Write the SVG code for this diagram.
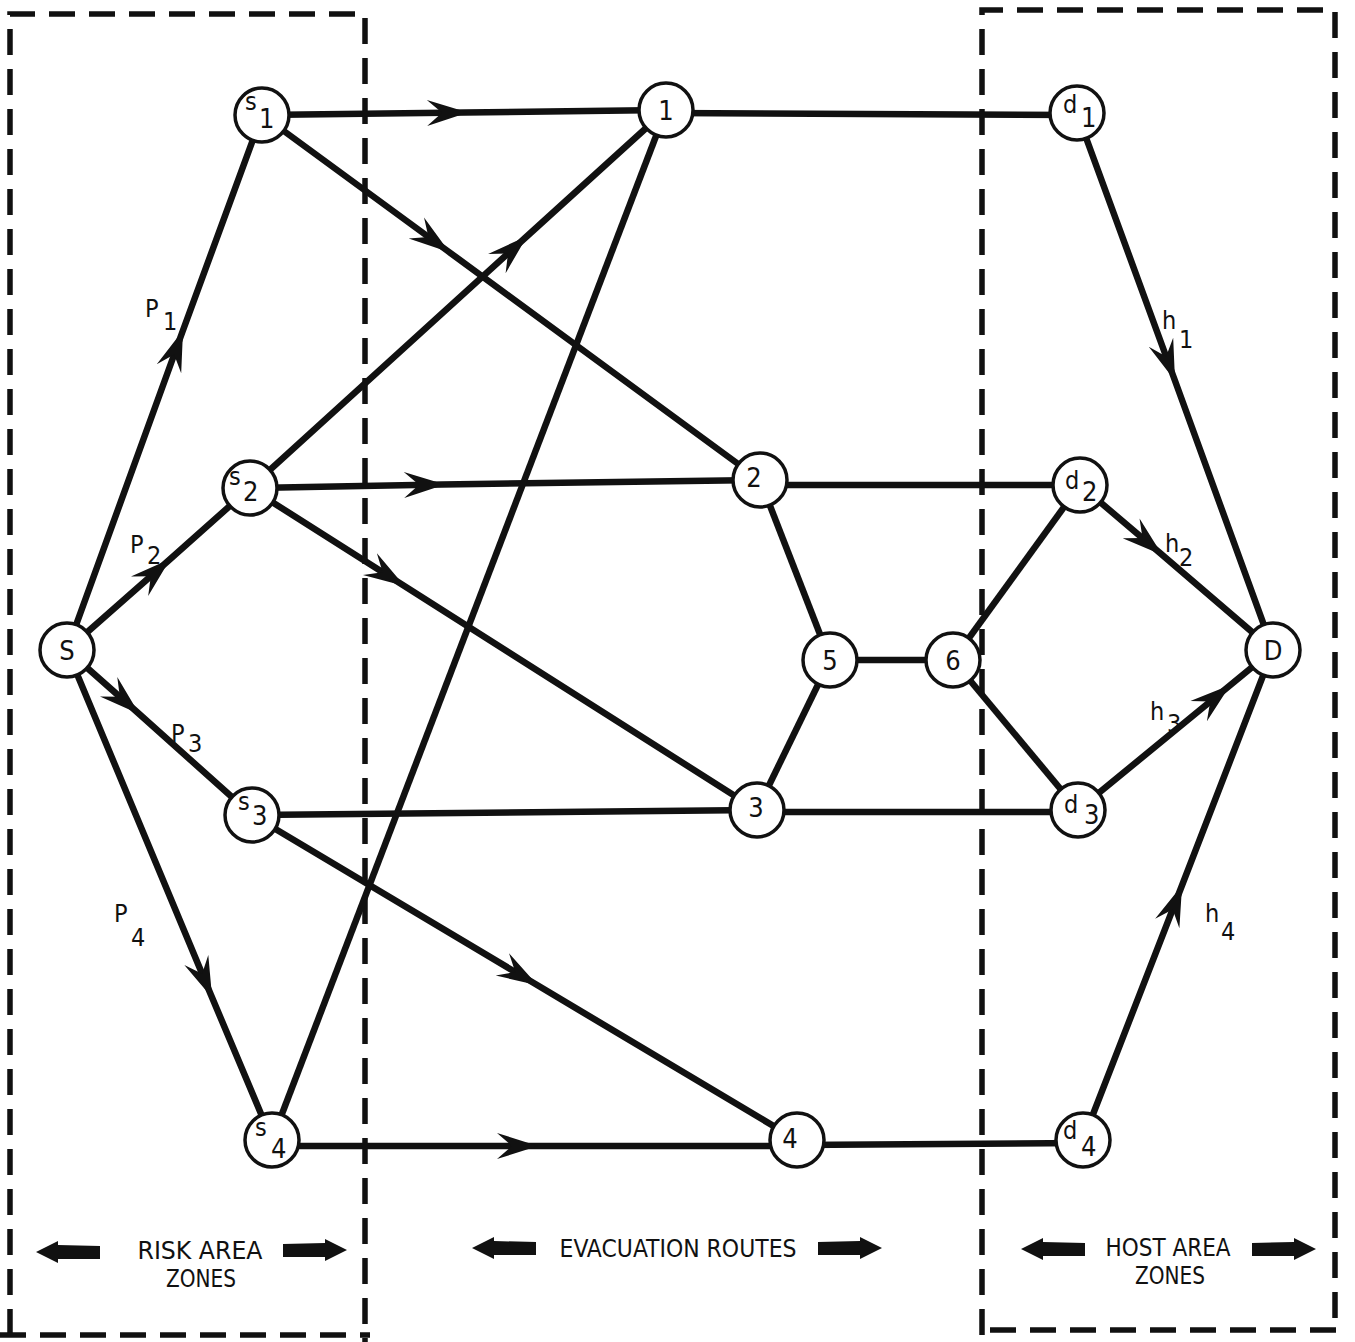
<svg xmlns="http://www.w3.org/2000/svg" width="1355" height="1342" viewBox="0 0 1355 1342">
<style>
.e{stroke:#111;stroke-width:6.5;fill:none}
.a{stroke:#111;stroke-width:6.5;fill:none;marker-mid:url(#ah)}
.n{fill:#fff;stroke:#111;stroke-width:3.5}
.t{font-family:"DejaVu Sans Condensed","DejaVu Sans","Liberation Sans",sans-serif;font-size:27px;fill:#111}
.s{font-family:"DejaVu Sans Condensed","DejaVu Sans","Liberation Sans",sans-serif;font-size:25px;fill:#111}
.b{font-family:"DejaVu Sans Condensed","DejaVu Sans","Liberation Sans",sans-serif;font-size:25px;fill:#111}
.d{stroke:#111;stroke-width:5.5;fill:none;stroke-dasharray:26 14}
.ar{fill:#111}
</style>
<defs>
<marker id="ah" markerUnits="userSpaceOnUse" markerWidth="48" markerHeight="34" viewBox="-42 -17 48 34" refX="0" refY="0" orient="auto">
<path d="M3,0 L-38,-13 L-23,0 L-38,13 Z" fill="#111"/>
</marker>
<path id="arrR" d="M0,-6 L42,-7 L42,-11 L64,0 L42,11 L42,7 L0,7 Z"/>
</defs>
<g id="zones">
<path class="d" d="M10,1335 L10,14 L365,14 L365,1342"/>
<path class="d" d="M0,1335 L370,1335"/>
<path class="d" d="M982,1335 L982,10 L1335,10 L1335,1330"/>
<path class="d" d="M990,1330 L1342,1330"/>
</g>
<g id="connectors">
<polyline class="a" points="67,650 182,333 262,115"/>
<polyline class="a" points="67,650 168,561 250,488"/>
<polyline class="a" points="67,650 137,712 252,815"/>
<polyline class="a" points="67,650 211,995 272,1140"/>
<polyline class="a" points="262,115 465,112.5 666,110"/>
<polyline class="a" points="262,115 447,250.5 760,480"/>
<polyline class="a" points="250,488 525,238 666,110"/>
<polyline class="a" points="250,488 442,484.5 760,480"/>
<polyline class="a" points="250,488 402,584.5 757,810"/>
<polyline class="a" points="252,815 535,983.8 797,1140"/>
<polyline class="a" points="272,1146 535,1146 797,1146"/>
<line class="e" x1="272" y1="1140" x2="666" y2="110"/>
<line class="e" x1="252" y1="815" x2="757" y2="810"/>
<line class="e" x1="666" y1="113" x2="1077" y2="115"/>
<line class="e" x1="760" y1="485" x2="1080" y2="485"/>
<line class="e" x1="757" y1="812" x2="1078" y2="812"/>
<line class="e" x1="797" y1="1145" x2="1083" y2="1143"/>
<line class="e" x1="760" y1="480" x2="830" y2="660"/>
<line class="e" x1="757" y1="810" x2="830" y2="660"/>
<line class="e" x1="830" y1="660" x2="953" y2="660"/>
<line class="e" x1="953" y1="660" x2="1080" y2="485"/>
<line class="e" x1="953" y1="660" x2="1078" y2="810"/>
<polyline class="a" points="1077,113 1174,378 1273,650"/>
<polyline class="a" points="1080,485 1160,553 1273,650"/>
<polyline class="a" points="1078,810 1228,687 1273,650"/>
<polyline class="a" points="1083,1140 1181,888 1273,650"/>
</g>
<g id="edge-labels">
<text class="s" x="145" y="317">P</text><text class="s" x="163" y="330">1</text>
<text class="s" x="130" y="553">P</text><text class="s" x="147" y="564">2</text>
<text class="s" x="171" y="742">P</text><text class="s" x="188" y="752">3</text>
<text class="s" x="114" y="922">P</text><text class="s" x="131" y="946">4</text>
<text class="s" x="1162" y="329">h</text><text class="s" x="1179" y="348">1</text>
<text class="s" x="1165" y="552">h</text><text class="s" x="1179" y="566">2</text>
<text class="s" x="1150" y="720">h</text><text class="s" x="1167" y="732">3</text>
<text class="s" x="1205" y="922">h</text><text class="s" x="1221" y="940">4</text>
</g>
<g id="node-S"><circle class="n" cx="67" cy="650" r="27"/><text class="t" x="67" y="660" text-anchor="middle">S</text></g>
<g id="node-s1"><circle class="n" cx="262" cy="115" r="27"/><text class="s" x="245" y="110">s</text><text class="t" x="259" y="128">1</text></g>
<g id="node-s2"><circle class="n" cx="250" cy="488" r="27"/><text class="s" x="229" y="485">s</text><text class="t" x="243" y="501">2</text></g>
<g id="node-s3"><circle class="n" cx="252" cy="815" r="27"/><text class="s" x="238" y="810">s</text><text class="t" x="252" y="825">3</text></g>
<g id="node-s4"><circle class="n" cx="272" cy="1140" r="27"/><text class="s" x="255" y="1136">s</text><text class="t" x="271" y="1158">4</text></g>
<g id="node-1"><circle class="n" cx="666" cy="110" r="27"/><text class="t" x="666" y="120" text-anchor="middle">1</text></g>
<g id="node-2"><circle class="n" cx="760" cy="480" r="27"/><text class="t" x="754" y="487" text-anchor="middle">2</text></g>
<g id="node-3"><circle class="n" cx="757" cy="810" r="27"/><text class="t" x="756" y="817" text-anchor="middle">3</text></g>
<g id="node-4"><circle class="n" cx="797" cy="1140" r="27"/><text class="t" x="790" y="1148" text-anchor="middle">4</text></g>
<g id="node-5"><circle class="n" cx="830" cy="660" r="27"/><text class="t" x="830" y="670" text-anchor="middle">5</text></g>
<g id="node-6"><circle class="n" cx="953" cy="660" r="27"/><text class="t" x="953" y="670" text-anchor="middle">6</text></g>
<g id="node-d1"><circle class="n" cx="1077" cy="113" r="27"/><text class="s" x="1063" y="113">d</text><text class="t" x="1081" y="127">1</text></g>
<g id="node-d2"><circle class="n" cx="1080" cy="485" r="27"/><text class="s" x="1065" y="489">d</text><text class="t" x="1082" y="501">2</text></g>
<g id="node-d3"><circle class="n" cx="1078" cy="810" r="27"/><text class="s" x="1064" y="813">d</text><text class="t" x="1084" y="824">3</text></g>
<g id="node-d4"><circle class="n" cx="1083" cy="1140" r="27"/><text class="s" x="1063" y="1139">d</text><text class="t" x="1081" y="1156">4</text></g>
<g id="node-D"><circle class="n" cx="1273" cy="650" r="27"/><text class="t" x="1273" y="660" text-anchor="middle">D</text></g>
<g id="footer">
<use href="#arrR" class="ar" transform="translate(100,1252) scale(-1,1)"/>
<use href="#arrR" class="ar" transform="translate(283,1250)"/>
<text class="b" x="200" y="1259" text-anchor="middle" textLength="125" lengthAdjust="spacingAndGlyphs">RISK AREA</text>
<text class="b" x="201" y="1287" text-anchor="middle" textLength="70" lengthAdjust="spacingAndGlyphs">ZONES</text>
<use href="#arrR" class="ar" transform="translate(536,1248) scale(-1,1)"/>
<use href="#arrR" class="ar" transform="translate(818,1248)"/>
<text class="b" x="678" y="1257" text-anchor="middle" textLength="237" lengthAdjust="spacingAndGlyphs">EVACUATION ROUTES</text>
<use href="#arrR" class="ar" transform="translate(1085,1249) scale(-1,1)"/>
<use href="#arrR" class="ar" transform="translate(1252,1249)"/>
<text class="b" x="1168" y="1256" text-anchor="middle" textLength="125" lengthAdjust="spacingAndGlyphs">HOST AREA</text>
<text class="b" x="1170" y="1284" text-anchor="middle" textLength="70" lengthAdjust="spacingAndGlyphs">ZONES</text>
</g>
</svg>
